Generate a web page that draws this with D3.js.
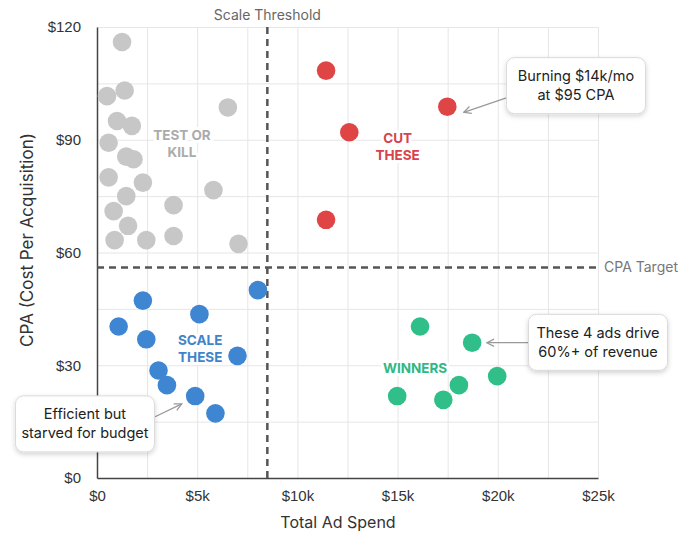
<!DOCTYPE html>
<html>
<head>
<meta charset="utf-8">
<script src="https://cdn.jsdelivr.net/npm/d3@7"></script>
<style>
  body { margin: 0; background: #fff; }
  svg { font-family: Inter, "Helvetica Neue", Arial, sans-serif; }
</style>
</head>
<body>
<div id="chart"></div>
<script>
// Ad spend (k$) vs CPA ($), by quadrant
const testSpend = [1.25, 0.5, 1.38, 6.53, 1.0, 1.74, 0.58, 1.46, 1.82, 0.58, 2.29, 5.81, 1.46, 3.82, 0.83, 1.55, 0.88, 2.46, 3.82, 7.06];
const testCpa   = [116, 101.6, 103.1, 98.6, 95, 93.7, 89.2, 85.5, 84.8, 80, 78.6, 76.6, 75, 72.6, 71, 67.1, 63.3, 63.3, 64.4, 62.3];
const cutSpend = [11.43, 17.48, 12.59, 11.43];
const cutCpa   = [108.4, 98.8, 92.0, 68.7];
const scaleSpend = [8.03, 2.29, 5.11, 1.08, 2.46, 7.01, 3.07, 3.49, 4.90, 5.91];
const scaleCpa   = [50, 47.2, 43.6, 40.3, 36.9, 32.5, 28.6, 24.7, 21.8, 17.2];
const winSpend = [16.12, 18.72, 19.97, 18.06, 14.98, 17.28];
const winCpa   = [40.3, 36.0, 27.1, 24.7, 21.8, 20.8];

const xTicks = [0, 5, 10, 15, 20, 25];
const yTicks = [0, 30, 60, 90, 120];
const spendThreshold = 8.5;
const cpaTarget = 56;

const groups = [
  { spend: testSpend, cpa: testCpa, color: "#c7c7c7", label: ["TEST OR", "KILL"], labelColor: "#ababab", lx: 4.24, ly: 89 },
  { spend: cutSpend, cpa: cutCpa, color: "#e04545", label: ["CUT", "THESE"], labelColor: "#d8434b", lx: 15.0, ly: 88 },
  { spend: scaleSpend, cpa: scaleCpa, color: "#3f86d2", label: ["SCALE", "THESE"], labelColor: "#3f84c9", lx: 5.15, ly: 34.5 },
  { spend: winSpend, cpa: winCpa, color: "#30bf88", label: ["WINNERS"], labelColor: "#2fb884", lx: 15.87, ly: 29.3 }
];

const notes = [
  { lines: ["Burning $14k/mo", "at $95 CPA"], cx: 23.9, cy: 104.4, from: [20.5, 101.3], to: [18.3, 97.3] },
  { lines: ["These 4 ads drive", "60%+ of revenue"], cx: 25.0, cy: 36.1, from: [21.55, 36.0], to: [19.45, 36.0] },
  { lines: ["Efficient but", "starved for budget"], cx: -0.6, cy: 14.4, from: [2.9, 16.3], to: [4.23, 19.7] }
];

const W = 688, H = 537;
const margin = { top: 27, right: 90, bottom: 59, left: 97 };
const width = W - margin.left - margin.right;
const height = H - margin.top - margin.bottom;

const svg = d3.select("#chart").append("svg")
  .attr("width", W)
  .attr("height", H);

const defs = svg.append("defs");
const shadow = defs.append("filter").attr("id", "shadow")
  .attr("x", "-20%").attr("y", "-20%").attr("width", "140%").attr("height", "150%");
shadow.append("feDropShadow")
  .attr("dx", 0).attr("dy", 2).attr("stdDeviation", 2.5)
  .attr("flood-color", "#000").attr("flood-opacity", 0.18);
defs.append("marker").attr("id", "arrow")
  .attr("viewBox", "0 0 10 10").attr("refX", 9).attr("refY", 5)
  .attr("markerWidth", 7).attr("markerHeight", 7).attr("orient", "auto")
  .append("path").attr("d", "M1,1 L9,5 L1,9").attr("fill", "none")
  .attr("stroke", "#999").attr("stroke-width", 1.4);

const g = svg.append("g").attr("transform", `translate(${margin.left},${margin.top})`);

const x = d3.scaleLinear().domain([0, 25]).range([0, width]);
const y = d3.scaleLinear().domain([0, 120]).range([height, 0]);

// grid
g.append("g")
  .attr("transform", `translate(0,${height})`)
  .call(d3.axisBottom(x).tickValues(d3.range(0, 25.1, 2.5)).tickSize(-height).tickFormat(""))
  .call(s => s.select(".domain").remove())
  .call(s => s.selectAll("line").attr("stroke", "#e6e6e6"));
g.append("g")
  .call(d3.axisLeft(y).tickValues(d3.range(0, 121, 15)).tickSize(-width).tickFormat(""))
  .call(s => s.select(".domain").remove())
  .call(s => s.selectAll("line").attr("stroke", "#e6e6e6"));

// axes
g.append("g")
  .attr("transform", `translate(0,${height})`)
  .call(d3.axisBottom(x).tickValues(xTicks).tickSize(0).tickPadding(12)
    .tickFormat(d => d === 0 ? "$0" : `$${d}k`))
  .call(s => s.select(".domain").attr("stroke", "#444").attr("stroke-width", 1.5))
  .call(s => s.selectAll("text").attr("font-size", 15).attr("fill", "#333").attr("font-family", null));
g.append("g")
  .call(d3.axisLeft(y).tickValues(yTicks).tickSize(0).tickPadding(16)
    .tickFormat(d => `$${d}`))
  .call(s => s.select(".domain").attr("stroke", "#444").attr("stroke-width", 1.5))
  .call(s => s.selectAll("text").attr("font-size", 15).attr("fill", "#333").attr("font-family", null));

svg.append("text")
  .attr("x", 338).attr("y", 528)
  .attr("text-anchor", "middle").attr("font-size", 16).attr("fill", "#333")
  .text("Total Ad Spend");
svg.append("text")
  .attr("transform", "translate(33,240) rotate(-90)")
  .attr("text-anchor", "middle").attr("font-size", 17).attr("fill", "#333")
  .text("CPA (Cost Per Acquisition)");

// thresholds
g.append("line")
  .attr("x1", x(spendThreshold)).attr("x2", x(spendThreshold))
  .attr("y1", 0).attr("y2", height)
  .attr("stroke", "#555").attr("stroke-width", 2.5).attr("stroke-dasharray", "7,5");
g.append("line")
  .attr("x1", 0).attr("x2", width)
  .attr("y1", y(cpaTarget)).attr("y2", y(cpaTarget))
  .attr("stroke", "#555").attr("stroke-width", 2.5).attr("stroke-dasharray", "7,5");
g.append("text")
  .attr("x", x(spendThreshold)).attr("y", -7)
  .attr("text-anchor", "middle").attr("font-size", 14).attr("fill", "#666")
  .text("Scale Threshold");
g.append("text")
  .attr("x", width + 6).attr("y", y(cpaTarget)).attr("dy", "0.35em")
  .attr("font-size", 14).attr("fill", "#777")
  .text("CPA Target");

// quadrant labels
groups.forEach(grp => {
  const t = g.append("text")
    .attr("text-anchor", "middle")
    .attr("font-size", 13.5).attr("font-weight", 700)
    .attr("fill", grp.labelColor)
    .attr("stroke", "#fff").attr("stroke-width", 6).attr("paint-order", "stroke")
    .attr("stroke-linejoin", "round");
  const n = grp.label.length;
  grp.label.forEach((line, i) => {
    t.append("tspan")
      .attr("x", x(grp.lx))
      .attr("y", y(grp.ly) + (i - (n - 1) / 2) * 17)
      .attr("dy", "0.35em")
      .text(line);
  });
});

// points
groups.forEach(grp => {
  g.append("g").selectAll("circle")
    .data(grp.spend.map((s, i) => [s, grp.cpa[i]]))
    .join("circle")
    .attr("cx", d => x(d[0]))
    .attr("cy", d => y(d[1]))
    .attr("r", 9.3)
    .attr("fill", grp.color);
});

// annotations
notes.forEach(nt => {
  g.append("line")
    .attr("x1", x(nt.from[0])).attr("y1", y(nt.from[1]))
    .attr("x2", x(nt.to[0])).attr("y2", y(nt.to[1]))
    .attr("stroke", "#999").attr("stroke-width", 1.3)
    .attr("marker-end", "url(#arrow)");
  const bw = 139, bh = 56;
  const bx = x(nt.cx) - bw / 2, by = y(nt.cy) - bh / 2;
  g.append("rect")
    .attr("x", bx).attr("y", by).attr("width", bw).attr("height", bh)
    .attr("rx", 8).attr("fill", "#fff").attr("stroke", "#dadada")
    .attr("filter", "url(#shadow)");
  const t = g.append("text")
    .attr("text-anchor", "middle").attr("font-size", 14.5).attr("fill", "#222");
  nt.lines.forEach((line, i) => {
    t.append("tspan")
      .attr("x", x(nt.cx))
      .attr("y", y(nt.cy) + (i - 0.5) * 19)
      .attr("dy", "0.35em")
      .text(line);
  });
});
</script>
</body>
</html>
